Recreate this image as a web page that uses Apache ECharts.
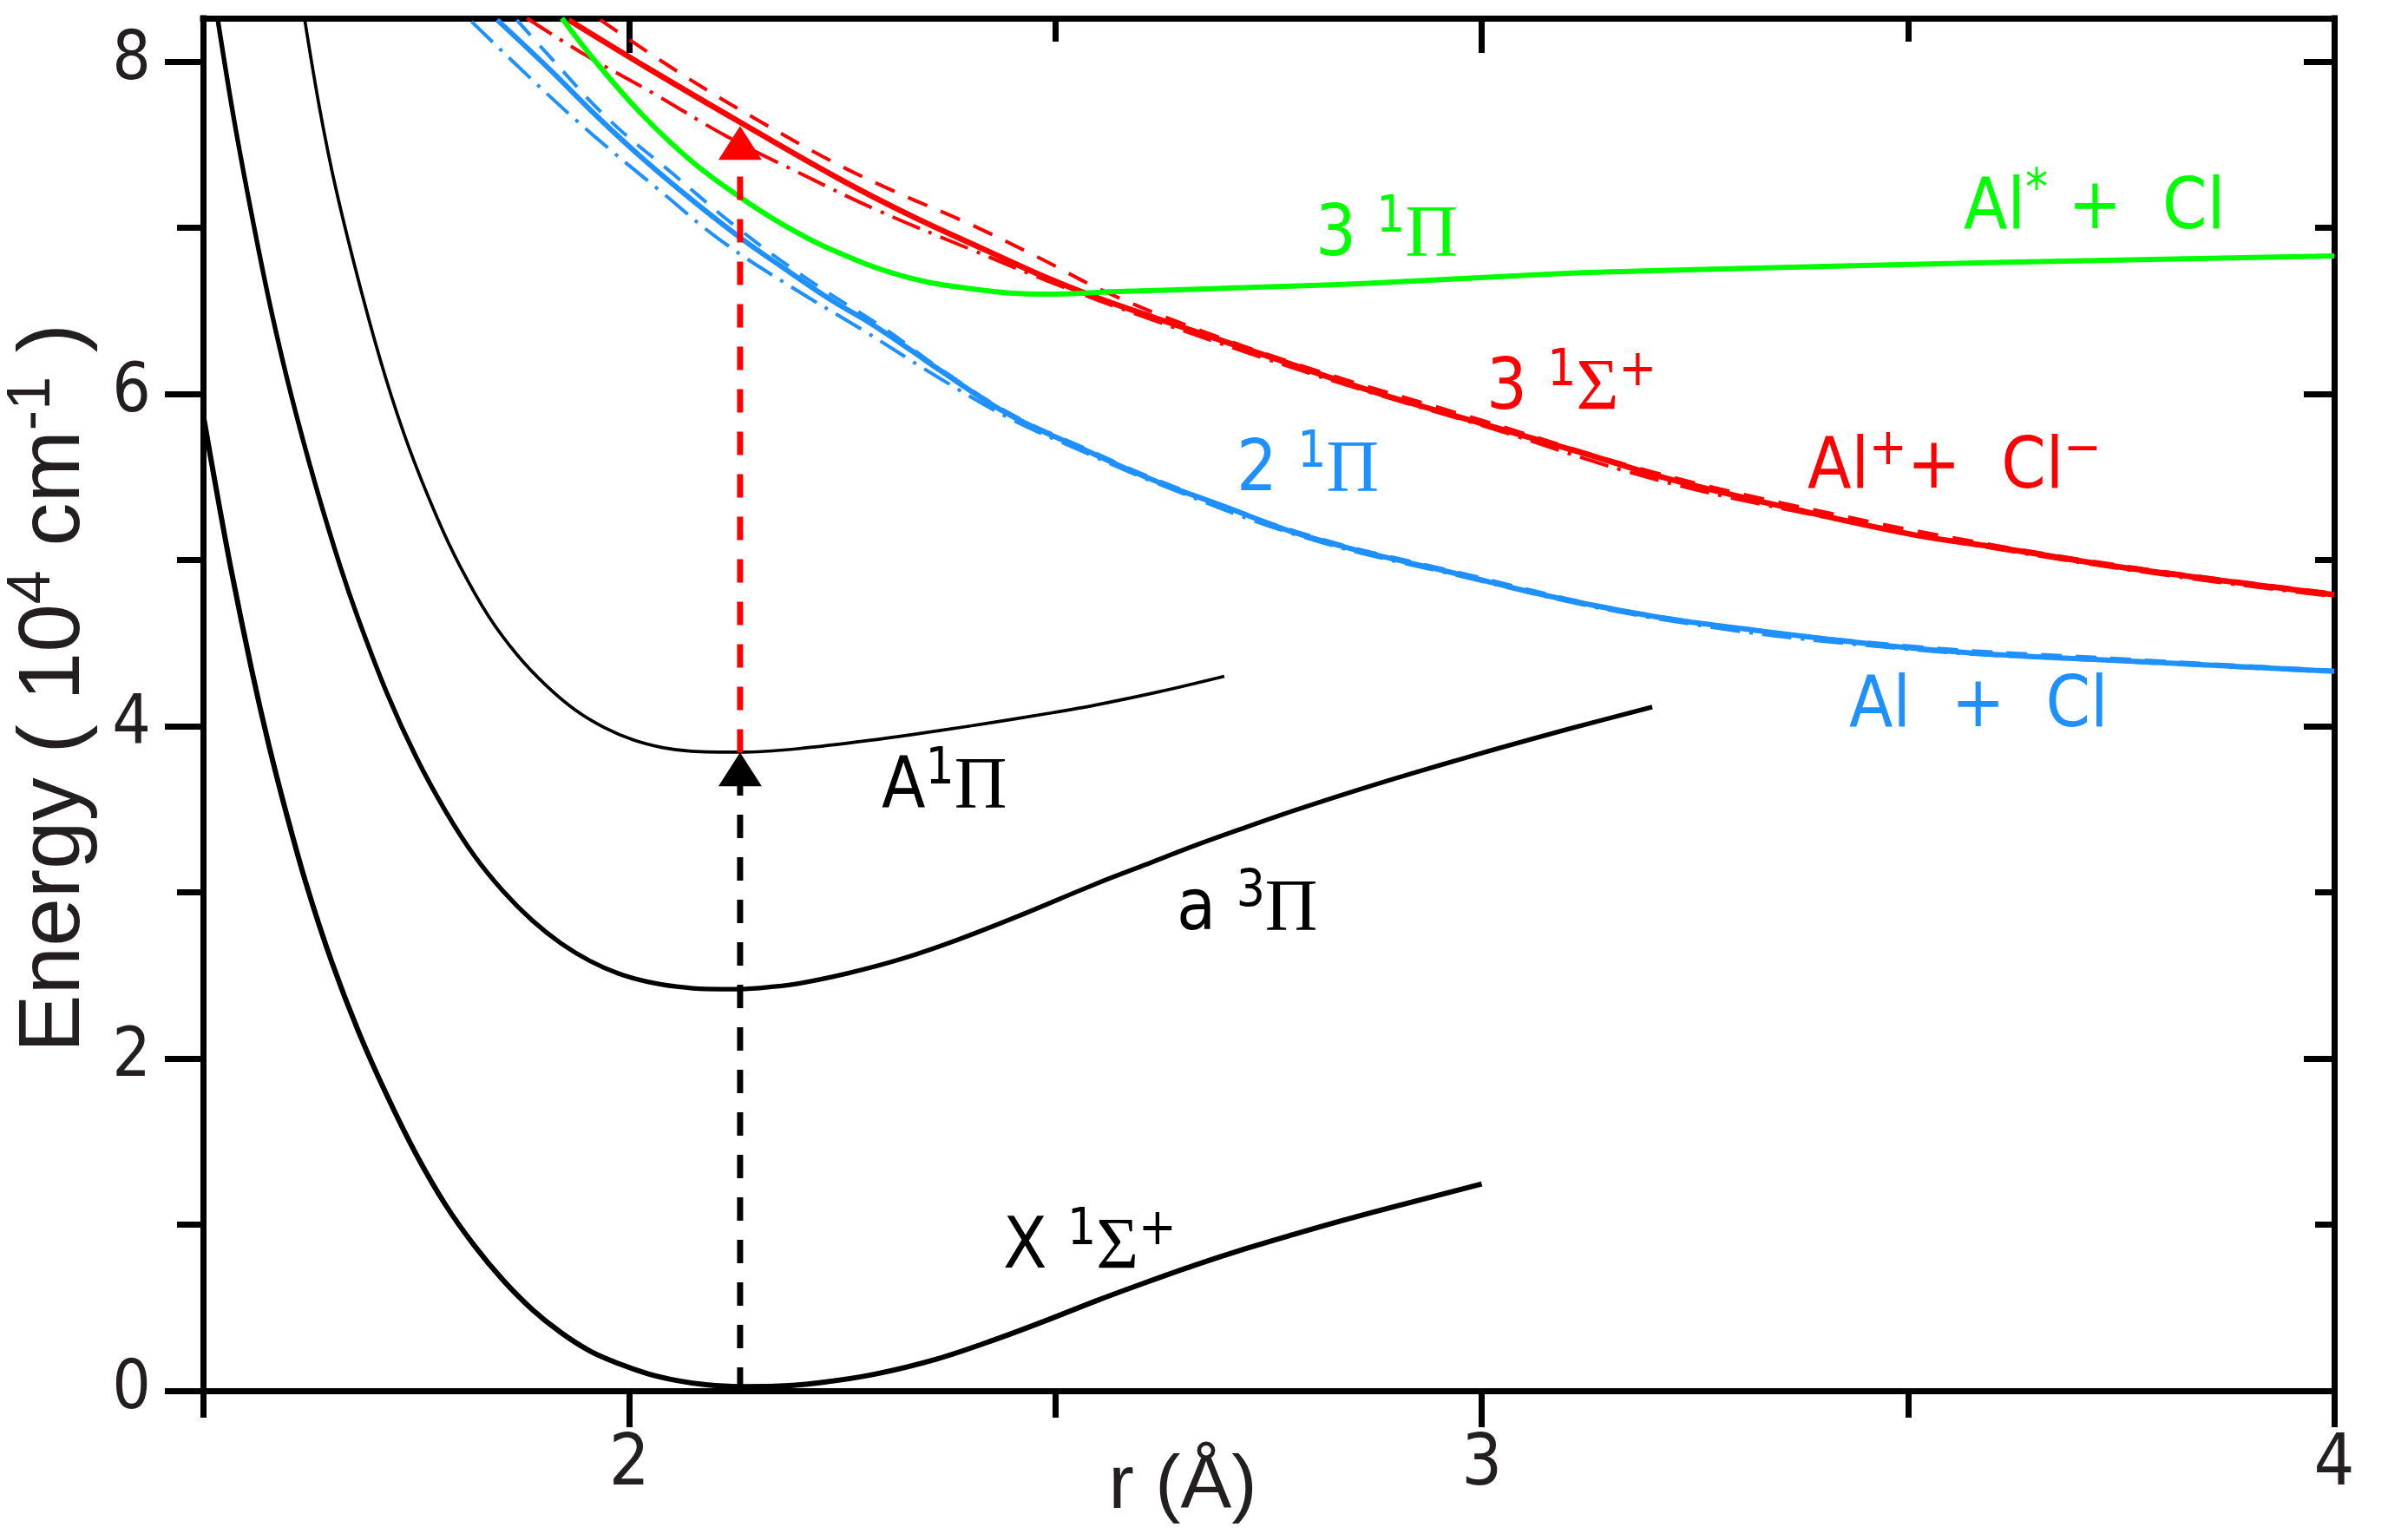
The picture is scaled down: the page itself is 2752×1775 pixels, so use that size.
<!DOCTYPE html>
<html><head><meta charset="utf-8">
<script src="https://cdn.jsdelivr.net/npm/echarts@6/dist/echarts.min.js"></script>
<style>html,body{margin:0;padding:0;background:#fff;} #c{width:2752px;height:1775px;}</style>
</head><body><div id="c"></div>
<script>
// ---------- data (r in Å, energy in 10^4 cm^-1) ----------
const xMajorTicks = [2, 3, 4];
const xMinorTicks = [1.5, 2.5, 3.5];
const yMajorTicks = [0, 2, 4, 6, 8];
const yMinorTicks = [1, 3, 5, 7];

const stateX1Sigma = [[1.5,5.88],[1.515,5.44],[1.533,4.94],[1.557,4.34],[1.577,3.89],[1.598,3.47],[1.621,3.05],[1.651,2.58],[1.6825,2.16],[1.7164,1.77],[1.7503,1.42],[1.7843,1.12],[1.8182,0.874],[1.8521,0.665],[1.886,0.49],[1.92,0.35],[1.9537,0.24],[1.9878,0.163],[2.0217,0.103],[2.0556,0.062],[2.09,0.036],[2.13,0.025],[2.17,0.027],[2.225,0.05],[2.288,0.10],[2.36,0.19],[2.43,0.31],[2.49,0.425],[2.547,0.54],[2.605,0.65],[2.663,0.755],[2.72,0.85],[2.779,0.94],[2.837,1.025],[2.895,1.105],[2.95,1.178],[3.0,1.245]];
const statea3Pi = [[1.517,8.26],[1.537,7.63],[1.56,7.0],[1.58,6.5],[1.603,6.0],[1.632,5.45],[1.661,4.96],[1.6825,4.64],[1.7164,4.19],[1.7503,3.81],[1.7843,3.49],[1.8182,3.22],[1.8521,3.006],[1.886,2.831],[1.92,2.692],[1.9537,2.587],[1.9878,2.51],[2.0217,2.461],[2.0556,2.432],[2.09,2.418],[2.13,2.417],[2.17,2.432],[2.2,2.452],[2.256,2.512],[2.32,2.60],[2.383,2.71],[2.458,2.86],[2.547,3.05],[2.605,3.165],[2.663,3.28],[2.72,3.385],[2.779,3.49],[2.837,3.587],[2.895,3.68],[2.953,3.768],[3.012,3.855],[3.105,3.987],[3.2,4.115]];
const stateA1Pi = [[1.619,8.26],[1.637,7.71],[1.656,7.23],[1.686,6.61],[1.714,6.10],[1.742,5.67],[1.775,5.25],[1.8012,4.965],[1.8351,4.66],[1.8691,4.425],[1.9028,4.243],[1.9369,4.096],[1.9708,3.991],[2.0046,3.917],[2.0387,3.871],[2.0726,3.849],[2.13,3.843],[2.2,3.865],[2.288,3.918],[2.36,3.97],[2.43,4.025],[2.49,4.075],[2.547,4.127],[2.62,4.205],[2.698,4.30]];
const state31Sigma = [[1.929,8.25],[2.025,7.95],[2.128,7.64],[2.244,7.30],[2.331,7.07],[2.42,6.86],[2.489,6.70],[2.548,6.58],[2.615,6.46],[2.741,6.24],[2.868,6.02],[2.994,5.83],[3.121,5.64],[3.218,5.49],[3.363,5.31],[3.508,5.15],[3.605,5.075],[3.726,4.975],[3.847,4.89],[4.0,4.79]];
const state31SigmaDash = [[1.966,8.25],[2.064,7.915],[2.153,7.64],[2.241,7.39],[2.31,7.22],[2.40,7.02],[2.48,6.82],[2.556,6.62],[2.65,6.42],[2.8,6.15],[3.0,5.84],[3.2,5.53],[3.4,5.29],[3.6,5.09],[3.8,4.93],[4.0,4.80]];
const state31SigmaDashDot = [[1.88,8.26],[1.948,8.04],[2.031,7.80],[2.114,7.55],[2.203,7.32],[2.293,7.10],[2.40,6.87],[2.5,6.66],[2.6,6.47],[2.741,6.22],[2.868,6.01],[3.0,5.81],[3.2,5.49],[3.4,5.26],[3.6,5.07],[3.8,4.91],[4.0,4.78]];
const state31Pi = [[1.921,8.26],[1.962,7.99],[2.017,7.67],[2.073,7.40],[2.128,7.19],[2.183,7.01],[2.236,6.87],[2.32,6.71],[2.404,6.63],[2.489,6.60],[2.573,6.615],[2.699,6.635],[2.868,6.665],[3.078,6.72],[3.2,6.74],[3.605,6.79],[4.0,6.83]];
const state21Pi = [[1.845,8.25],[1.907,7.95],[1.962,7.67],[2.017,7.41],[2.075,7.16],[2.13,6.94],[2.183,6.75],[2.238,6.56],[2.278,6.44],[2.331,6.26],[2.362,6.15],[2.447,5.87],[2.531,5.67],[2.615,5.48],[2.699,5.32],[2.783,5.16],[2.868,5.04],[2.96,4.93],[3.081,4.78],[3.202,4.66],[3.323,4.575],[3.484,4.48],[3.605,4.43],[3.766,4.39],[4.0,4.33]];
const state21PiDash = [[1.868,8.25],[1.903,8.05],[1.974,7.66],[2.052,7.32],[2.129,6.99],[2.212,6.68],[2.3,6.39],[2.362,6.16],[2.447,5.88],[2.531,5.68],[2.615,5.49],[2.783,5.17],[2.96,4.94],[3.202,4.665],[3.484,4.49],[3.766,4.40],[4.0,4.335]];
const state21PiDashDot = [[1.815,8.24],[1.888,7.88],[1.959,7.55],[2.034,7.23],[2.108,6.92],[2.191,6.64],[2.275,6.38],[2.362,6.10],[2.447,5.85],[2.531,5.655],[2.615,5.47],[2.783,5.15],[2.96,4.92],[3.202,4.65],[3.484,4.47],[3.766,4.385],[4.0,4.325]];
const transitionLower = [[2.13,0.0],[2.13,3.64]];
const transitionUpper = [[2.13,3.84],[2.13,7.42]];
const arrowLower = [[2.13,3.74]];
const arrowUpper = [[2.13,7.51]];

// ---------- style ----------
const SANS_N = "'Liberation Sans Narrow', 'DejaVu Sans Condensed', 'Liberation Sans', sans-serif";
const SANS = "'Liberation Sans', 'DejaVu Sans', sans-serif";
const SERIF = "'Liberation Serif', 'DejaVu Serif', serif";
const INK = '#231f20';
const RED = '#ff0000', GREEN = '#00ff00', BLUE = '#1e90ff', BLACK = '#000000';

const chart = echarts.init(document.getElementById('c'), null, {renderer:'canvas', width:2752, height:1775});

function curve(name, data, color, width, type, z, smooth) {
  return {name, type:'line', data, smooth: smooth || 0.4, showSymbol:false, symbol:'none', silent:true,
    lineStyle:{color, width, type: type || 'solid', cap:'butt', join:'round'}, z: z || 2, animation:false};
}
function vline(name, data, color) {
  return {name, type:'line', data, showSymbol:false, symbol:'none', silent:true,
    lineStyle:{color, width:7, type:[27,22]}, z:5, animation:false};
}
function arrow(name, data, color) {
  return {name, type:'scatter', data, symbol:'triangle', symbolSize:[50,39], silent:true,
    itemStyle:{color, opacity:1}, z:6, animation:false};
}

const tickStyle = {color:'#000', width:7};
const lineStyleAxis = {color:'#000', width:7, cap:'square'};
function xAx(pos, showLine, ticks, len, inside, labels) {
  return {type:'value', min:1.5, max:4, interval:0.5, position:pos,
    axisLine:{show:showLine, onZero:false, lineStyle:lineStyleAxis},
    axisTick:{show:true, inside, length:len, customValues:ticks, lineStyle:tickStyle},
    axisLabel: labels ? {show:true, customValues:labels, margin:46, fontSize:82, fontFamily:SANS_N, color:INK} : {show:false},
    splitLine:{show:false}};
}
function yAx(pos, showLine, ticks, len, inside, labels) {
  return {type:'value', min:0, max:8.26, interval:1, position:pos,
    axisLine:{show:showLine, onZero:false, lineStyle:lineStyleAxis},
    axisTick:{show:true, inside, length:len, customValues:ticks, lineStyle:tickStyle},
    axisLabel: labels ? {show:true, customValues:labels, margin:60, fontSize:78, fontFamily:SANS_N, color:INK} : {show:false},
    splitLine:{show:false}};
}

function richFor(color) {
  return {
    b:{fontFamily:SANS_N, fontSize:82, lineHeight:100, color},
    g:{fontFamily:SERIF, fontSize:84, lineHeight:100, color},
    s:{fontFamily:SANS_N, fontSize:58, lineHeight:28, verticalAlign:'top', color},
    sA:{fontFamily:SANS_N, fontSize:58, lineHeight:42, verticalAlign:'top', color},
    sLow:{fontFamily:SANS_N, fontSize:58, lineHeight:74, verticalAlign:'top', color}
  };
}
const annotations = [
  {text:'{b|3 }{s|1}{g|Π}', color:GREEN, x:1516, base:301},
  {text:'{b|Al}{s|*}{b| +  Cl}', color:GREEN, x:2263, base:270},
  {text:'{b|3 }{s|1}{g|Σ}{s|+}', color:RED, x:1713, base:478},
  {text:'{b|Al}{s|+}{b|+  Cl}{s|−}', color:RED, x:2083, base:569},
  {text:'{b|2 }{s|1}{g|Π}', color:BLUE, x:1425, base:572},
  {text:'{b|Al  +  Cl}', color:BLUE, x:2131, base:844},
  {text:'{b|A}{sA|1}{g|Π}', color:BLACK, x:1016, base:937},
  {text:'{b|a }{sLow|3}{g|Π}', color:BLACK, x:1356, base:1078},
  {text:'{b|X }{s|1}{g|Σ}{s|+}', color:BLACK, x:1156, base:1468}
];
const graphics = annotations.map(a => ({
  type:'text', x:a.x, y:a.base - 78, silent:true, z:10,
  style:{text:a.text, rich:richFor(a.color), fill:a.color, align:'left', verticalAlign:'top', textAlign:'left', textVerticalAlign:'top'}
}));
graphics.push({
  type:'text', x:63, y:793, rotation:Math.PI/2, silent:true, z:10,
  style:{text:'{m|Energy ( 10}{u|4}{m| cm}{u|-1}{m| )}',
    rich:{m:{fontFamily:SANS, fontSize:100, lineHeight:120, color:INK}, u:{fontFamily:SANS, fontSize:70, lineHeight:70, verticalAlign:'top', color:INK}},
    fill:INK, align:'center', verticalAlign:'middle', textAlign:'center', textVerticalAlign:'middle'}
});
graphics.push({
  type:'text', x:1363, y:1714, silent:true, z:10,
  style:{text:'r (Å)', font:'88px ' + SANS, fill:INK, align:'center', verticalAlign:'middle', textAlign:'center', textVerticalAlign:'middle'}
});

chart.setOption({
  animation:false,
  backgroundColor:'#ffffff',
  grid:{left:234, right:62, top:21, bottom:172, containLabel:false, outerBoundsMode:'none'},
  xAxis:[
    xAx('bottom', true, xMajorTicks, 42, false, xMajorTicks),
    xAx('bottom', false, xMinorTicks, 31, false, null),
    xAx('top', true, xMajorTicks, 40, true, null),
    xAx('top', false, xMinorTicks, 27, true, null)
  ],
  yAxis:[
    yAx('left', true, yMajorTicks, 44, false, yMajorTicks),
    yAx('left', false, yMinorTicks, 30, false, null),
    yAx('right', true, yMajorTicks, 35, true, null),
    yAx('right', false, yMinorTicks, 22, true, null)
  ],
  series:[
    curve('3Σ dash-dot', state31SigmaDashDot, RED, 4, [34,11,4,11]),
    curve('3Σ dashed', state31SigmaDash, RED, 4, [24,17]),
    curve('2Π dash-dot', state21PiDashDot, BLUE, 4, [34,11,4,11]),
    curve('2Π dashed', state21PiDash, BLUE, 4, [24,16]),
    curve('2 1Π', state21Pi, BLUE, 6, 'solid', 3),
    curve('3 1Σ+', state31Sigma, RED, 6.5, 'solid', 3),
    curve('3 1Π', state31Pi, GREEN, 6, 'solid', 3),
    curve('A 1Π', stateA1Pi, BLACK, 3.7, 'solid', 3, 0.35),
    curve('a 3Π', statea3Pi, BLACK, 5.3, 'solid', 3, 0.35),
    curve('X 1Σ+', stateX1Sigma, BLACK, 6, 'solid', 3, 0.35),
    vline('transition lower', transitionLower, BLACK),
    vline('transition upper', transitionUpper, RED),
    arrow('arrow lower', arrowLower, BLACK),
    arrow('arrow upper', arrowUpper, RED)
  ],
  graphic:graphics
});
</script>
</body></html>
